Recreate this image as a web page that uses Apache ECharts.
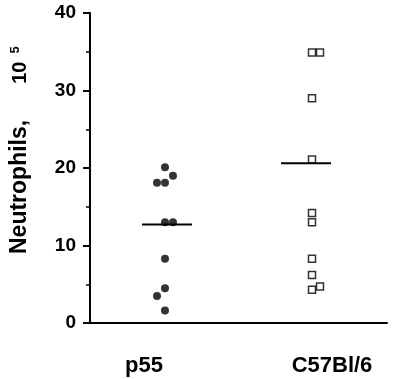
<!DOCTYPE html>
<html>
<head>
<meta charset="utf-8">
<script src="https://cdn.jsdelivr.net/npm/echarts@6/dist/echarts.min.js"></script>
<style>
    body { margin: 0; background: #fff; }
    #chart { width: 400px; height: 379px; }
</style>
</head>
<body>
<div id="chart"></div>
<script>
    // data (neutrophils x 10^5)
    var categories = ['p55', 'C57Bl/6'];
    var p55Values = [20.1, 19.0, 18.1, 18.1, 13.0, 13.0, 8.3, 4.5, 3.5, 1.6];
    var p55Jitter = [0, 1, -1, 0, 0, 1, 0, 0, -1, 0];
    var c57Values = [34.9, 34.9, 29.0, 21.1, 14.2, 13.0, 8.3, 6.2, 4.3, 4.7];
    var c57Jitter = [0, 1, 0, 0, 0, 0, 0, 0, 0, 1];
    var medians = [12.7, 20.6];
    var yTicks = [0, 10, 20, 30, 40];

    // layout on the x value axis (0..297 ~ pixels)
    var groupX = [75, 222];
    var labelX = [54, 242];
    var jitterStep = 8;
    var medianHalf = 25;
    var font = 'Liberation Sans, Arial, Helvetica, sans-serif';

    function points(values, jitter, gx) {
        return values.map(function (v, i) { return [gx + jitter[i] * jitterStep, v]; });
    }
    function medianLine(i) {
        var c = groupX[i] + (i == 0 ? 2 : -6);
        return [[c - medianHalf, medians[i]], [c + medianHalf, medians[i]]];
    }

    var chart = echarts.init(document.getElementById('chart'));
    chart.setOption({
        animation: false,
        grid: { left: 90, right: 13, top: 13, bottom: 56 },
        xAxis: {
            type: 'value', min: 0, max: 297,
            splitLine: { show: false },
            axisLine: { show: true, lineStyle: { color: '#000', width: 2 } },
            axisTick: { show: false },
            axisLabel: {
                customValues: labelX,
                formatter: function (v) { return categories[labelX.indexOf(v)]; },
                color: '#000', fontFamily: font, fontWeight: 'bold', fontSize: 22,
                margin: 32
            }
        },
        yAxis: {
            type: 'value', min: 0, max: 40, interval: 10,
            splitLine: { show: false },
            axisLine: { show: true, lineStyle: { color: '#000', width: 2 } },
            axisTick: { show: true, length: 7, lineStyle: { color: '#000', width: 2 } },
            minorTick: { show: true, splitNumber: 2, length: 4, lineStyle: { color: '#000', width: 1.5 } },
            axisLabel: {
                formatter: function (v) { return yTicks.indexOf(v) >= 0 ? String(v) : ''; },
                color: '#000', fontFamily: font, fontWeight: 'bold', fontSize: 19,
                margin: 14
            }
        },
        // rotated axis title with superscript
        graphic: [{
            type: 'text',
            x: 20, y: 254,
            rotation: Math.PI / 2,
            style: {
                text: '{a|Neutrophils,}{b|10}{s|5}',
                textVerticalAlign: 'middle',
                rich: {
                    a: { fontFamily: font, fontWeight: 'bold', fontSize: 23, fill: '#000', verticalAlign: 'middle' },
                    b: { fontFamily: font, fontWeight: 'bold', fontSize: 20, fill: '#000', verticalAlign: 'middle', padding: [0, 8, 0, 36] },
                    s: { fontFamily: font, fontWeight: 'bold', fontSize: 13, fill: '#000', verticalAlign: 'top' }
                }
            }
        }],
        series: [
            {
                type: 'scatter', data: points(p55Values, p55Jitter, groupX[0]),
                symbol: 'circle', symbolSize: 8,
                itemStyle: { color: '#000' }
            },
            {
                type: 'scatter', data: points(c57Values, c57Jitter, groupX[1]),
                symbol: 'rect', symbolSize: 7,
                itemStyle: { color: '#fff', borderColor: '#000', borderWidth: 1.5 }
            },
            {
                type: 'line', data: medianLine(0), symbol: 'none',
                lineStyle: { color: '#000', width: 2 }
            },
            {
                type: 'line', data: medianLine(1), symbol: 'none',
                lineStyle: { color: '#000', width: 2 }
            }
        ]
    });
</script>
</body>
</html>
